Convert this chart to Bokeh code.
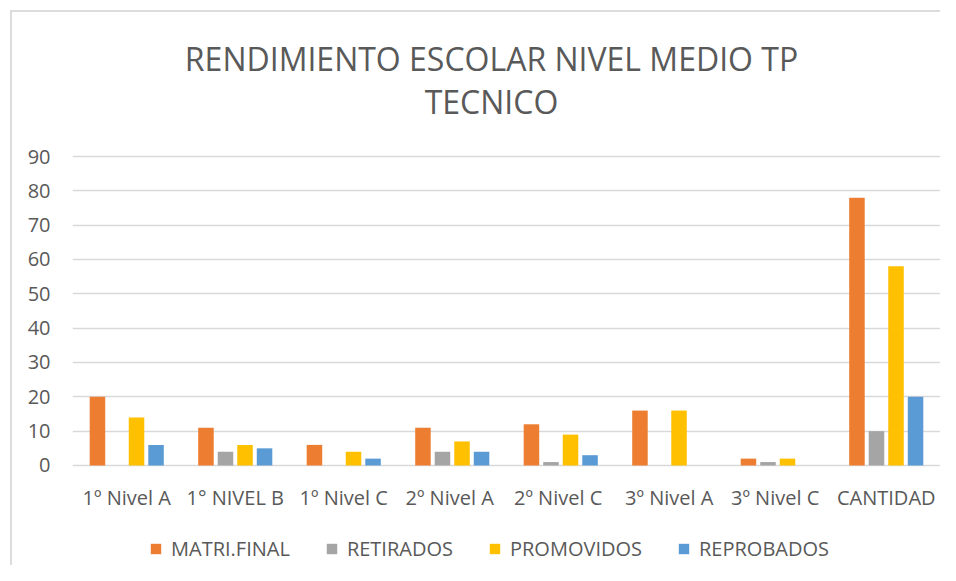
from bokeh.plotting import figure
from bokeh.models import (ColumnDataSource, FactorRange, Range1d, Label, Legend,
                          LegendItem, FixedTicker)
from bokeh.core.properties import value
from bokeh.transform import dodge
from bokeh.embed import file_html
from bokeh.resources import INLINE

categories = ["1º Nivel A", "1° NIVEL B", "1º Nivel C", "2º Nivel  A",
              "2º Nivel  C", "3º Nivel A", "3º Nivel  C", "CANTIDAD"]
matri_final = [20, 11, 6, 11, 12, 16, 2, 78]
retirados = [0, 4, 0, 4, 1, 0, 1, 10]
promovidos = [14, 6, 4, 7, 9, 16, 2, 58]
reprobados = [6, 5, 2, 4, 3, 0, 0, 20]
y_ticks = [0, 10, 20, 30, 40, 50, 60, 70, 80, 90]
series_names = ["MATRI.FINAL", "RETIRADOS", "PROMOVIDOS", "REPROBADOS"]
series_colors = ["#ED7D31", "#A5A5A5", "#FFC000", "#5B9BD5"]
title_lines = ["RENDIMIENTO ESCOLAR NIVEL MEDIO TP", "TECNICO"]

FONT = "Open Sans"
TXT = "#595959"

source = ColumnDataSource(dict(cat=categories, m=matri_final, r=retirados,
                               p=promovidos, b=reprobados,
                               ly=[-9.3] * len(categories)))

# the frame spans the whole height; value axis runs 0..90 inside it
p = figure(x_range=FactorRange(*categories, range_padding=0),
           y_range=Range1d(-29.13, 135.44),
           width=940, height=565, output_backend="svg", toolbar_location=None,
           min_border_left=72, min_border_right=0, min_border_top=0,
           min_border_bottom=0, title=None)

# light chart-area border (top and left edges) drawn behind a transparent canvas
p.border_fill_color = None
p.background_fill_color = None
p.styles = {"background": "linear-gradient(#dcdcdc, #dcdcdc) 10px 10px / 2px 100% no-repeat, "
                          "linear-gradient(#dcdcdc, #dcdcdc) 10px 10px / 100% 2px no-repeat, #ffffff"}

keys = ["m", "r", "p", "b"]
offsets = [-0.27, -0.09, 0.09, 0.27]
renderers = []
for k, off, col in zip(keys, offsets, series_colors):
    r = p.vbar(x=dodge("cat", off, range=p.x_range), top=k, width=0.143,
               source=source, fill_color=col, line_color=None)
    renderers.append(r)

# category labels
p.text(x="cat", y="ly", text="cat", source=source, text_align="center",
       text_baseline="middle", text_font=value(FONT), text_font_size="20px",
       text_color=TXT)

p.yaxis.ticker = FixedTicker(ticks=y_ticks)
p.yaxis.axis_line_color = None
p.yaxis.major_tick_line_color = None
p.yaxis.minor_tick_line_color = None
p.yaxis.major_label_text_font = FONT
p.yaxis.major_label_text_font_size = "20px"
p.yaxis.major_label_text_color = TXT
p.yaxis.major_label_standoff = 16

p.xaxis.visible = False

p.xgrid.grid_line_color = None
p.ygrid.ticker = FixedTicker(ticks=y_ticks)
p.ygrid.grid_line_color = "#d9d9d9"
p.ygrid.grid_line_width = 1.5
p.outline_line_color = None

legend = Legend(items=[LegendItem(label=n, renderers=[r]) for n, r in zip(series_names, renderers)],
                orientation="horizontal", location=(77, 3),
                label_text_font=FONT, label_text_font_size="20px",
                label_text_color=TXT, glyph_width=13, glyph_height=13,
                spacing=35, label_standoff=9, border_line_color=None,
                background_fill_alpha=0, padding=4)
p.add_layout(legend, "center")

for t, y in zip(title_lines, [507, 464]):
    p.add_layout(Label(x=419, y=y, x_units="screen", y_units="screen", text=t,
                       text_align="center", text_baseline="middle",
                       text_font=FONT, text_font_size="32px", text_color=TXT))

open("out.html", "w").write(file_html(p, INLINE))
